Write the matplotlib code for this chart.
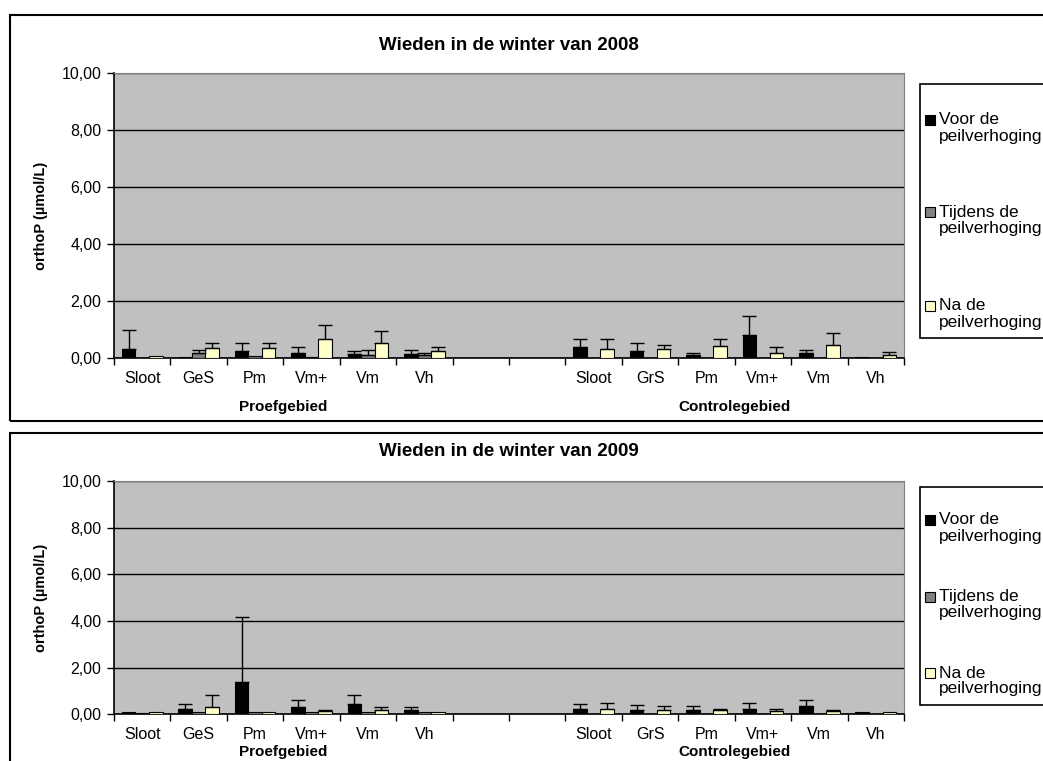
import numpy as np
import matplotlib
matplotlib.use("Agg")
import matplotlib.pyplot as plt
from matplotlib.patches import Rectangle

plt.rcParams['font.family'] = ['Liberation Sans', 'DejaVu Sans']

nan = np.nan

# categorieen (twee lege posities tussen de gebieden)
categories = ['Sloot', 'GeS', 'Pm', 'Vm+', 'Vm', 'Vh', '', '',
              'Sloot', 'GrS', 'Pm', 'Vm+', 'Vm', 'Vh']
groups = ['Proefgebied', 'Controlegebied']
series = ['Voor de\npeilverhoging', 'Tijdens de\npeilverhoging', 'Na de\npeilverhoging']
colors = ['#000000', '#808080', '#FFFFCC']

# winter 2008
voor_2008 = [0.34, 0.05, 0.24, 0.19, 0.15, 0.15, nan, nan, 0.38, 0.24, 0.10, 0.80, 0.19, 0.04]
voor_2008_err = [0.64, 0, 0.28, 0.22, 0.09, 0.14, nan, nan, 0.31, 0.28, 0.09, 0.69, 0.09, 0]
tijdens_2008 = [nan, 0.18, 0.09, 0.03, 0.13, 0.10, nan, nan, nan, nan, nan, nan, nan, nan]
tijdens_2008_err = [nan, 0.10, 0, 0, 0.15, 0.09, nan, nan, nan, nan, nan, nan, nan, nan]
na_2008 = [0.09, 0.37, 0.37, 0.66, 0.52, 0.25, nan, nan, 0.33, 0.33, 0.42, 0.18, 0.47, 0.13]
na_2008_err = [0, 0.17, 0.17, 0.52, 0.43, 0.13, nan, nan, 0.33, 0.15, 0.24, 0.20, 0.43, 0.08]

# winter 2009
voor_2009 = [0.09, 0.24, 1.37, 0.30, 0.43, 0.18, nan, nan, 0.23, 0.18, 0.18, 0.24, 0.34, 0.10]
voor_2009_err = [0, 0.22, 2.82, 0.31, 0.41, 0.15, nan, nan, 0.20, 0.21, 0.16, 0.23, 0.26, 0]
tijdens_2009 = [0.07, 0.08, 0.09, 0.08, 0.08, 0.08, nan, nan, nan, nan, nan, nan, nan, nan]
tijdens_2009_err = [0, 0, 0, 0, 0, 0, nan, nan, nan, nan, nan, nan, nan, nan]
na_2009 = [0.09, 0.33, 0.09, 0.14, 0.18, 0.09, nan, nan, 0.23, 0.18, 0.18, 0.14, 0.14, 0.10]
na_2009_err = [0, 0.49, 0, 0.03, 0.15, 0, nan, nan, 0.26, 0.16, 0.06, 0.10, 0.06, 0]

W, H = 1043, 761
fig = plt.figure(figsize=(W / 100, H / 100), dpi=100)


def px(x0, y0, x1, y1):
    # pixelrechthoek -> figuurcoordinaten
    return [x0 / W, 1 - y1 / H, (x1 - x0) / W, (y1 - y0) / H]


def chart(rect, title, vals, errs, title_y, group_y, frame, leg_box, leg_rows):
    # buitenkader van de grafiek
    fig.add_artist(Rectangle((frame[0] / W, 1 - frame[3] / H),
                             (frame[2] - frame[0]) / W, (frame[3] - frame[1]) / H,
                             transform=fig.transFigure, fill=False,
                             edgecolor='black', lw=1.5, clip_on=False))
    ax = fig.add_axes(px(*rect))
    ax.set_facecolor('#C0C0C0')
    n = len(categories)
    x = np.arange(n) + 0.5
    w = 0.24
    for k in range(3):
        v = np.array(vals[k], dtype=float)
        e = np.array(errs[k], dtype=float)
        xs = x + (k - 1) * w
        ax.bar(xs, v, width=w, color=colors[k], edgecolor='black', lw=0.8, zorder=3)
        m = np.isfinite(v) & np.isfinite(e) & (np.nan_to_num(e) > 0)
        ax.errorbar(xs[m], v[m], yerr=[np.zeros(m.sum()), e[m]], fmt='none',
                    ecolor='black', elinewidth=1, capsize=5, capthick=1, zorder=4)
    ax.set_xlim(0, n)
    ax.set_ylim(0, 10)
    ax.set_yticks(np.arange(0, 10.1, 2))
    ax.yaxis.set_major_formatter(plt.FuncFormatter(lambda t, p: ('%.2f' % t).replace('.', ',')))
    ax.grid(axis='y', color='black', lw=1, zorder=1)
    ax.set_xticks(np.arange(0, n + 1))
    ax.set_xticklabels([])
    ax.set_xticks(x, minor=True)
    ax.set_xticklabels(categories, minor=True, fontsize=11.5)
    ax.tick_params(axis='x', which='minor', length=0, pad=9)
    ax.tick_params(axis='x', which='major', length=5, direction='out', width=1)
    ax.tick_params(axis='y', length=5, direction='out', width=1, labelsize=11.5, pad=4)
    for s in ['top', 'right']:
        ax.spines[s].set_color('#808080')
    for s in ['left', 'bottom']:
        ax.spines[s].set_color('black')
        ax.spines[s].set_linewidth(1.2)
    ax.set_ylabel('orthoP (µmol/L)', fontsize=10.5, fontweight='bold', labelpad=10)
    fig.text(((rect[0] + rect[2]) / 2) / W, 1 - title_y / H, title,
             ha='center', va='center', fontsize=13.5, fontweight='bold')
    for g, c in zip(groups, [3, 11]):
        cx = rect[0] + (rect[2] - rect[0]) * c / n
        fig.text(cx / W, 1 - group_y / H, g, ha='center', va='center',
                 fontsize=11, fontweight='bold')
    # legenda
    fig.add_artist(Rectangle((leg_box[0] / W, 1 - leg_box[3] / H),
                             (leg_box[2] - leg_box[0]) / W, (leg_box[3] - leg_box[1]) / H,
                             transform=fig.transFigure, fill=True, facecolor='white',
                             edgecolor='black', lw=1.2, clip_on=False))
    for k, yy in enumerate(leg_rows):
        fig.add_artist(Rectangle((925 / W, 1 - (yy + 5) / H), 10 / W, 10 / H,
                                 transform=fig.transFigure, facecolor=colors[k],
                                 edgecolor='black', lw=0.8))
        first, second = series[k].split('\n')
        fig.text(939 / W, 1 - yy / H, first, ha='left', va='center', fontsize=12.5)
        fig.text(939 / W, 1 - (yy + 16) / H, second, ha='left', va='center', fontsize=12.5)
    return ax


chart((114, 72.7, 904, 358.3), 'Wieden in de winter van 2008',
      [voor_2008, tijdens_2008, na_2008], [voor_2008_err, tijdens_2008_err, na_2008_err],
      45, 407, (10, 15, 1060, 421), (920, 84, 1060, 338), [120, 212, 306])
chart((114, 481, 904, 714.3), 'Wieden in de winter van 2009',
      [voor_2009, tijdens_2009, na_2009], [voor_2009_err, tijdens_2009_err, na_2009_err],
      452, 752, (10, 433, 1060, 780), (920, 487, 1060, 705), [520, 597, 673])

fig.savefig('out.png', dpi=100, facecolor='white')
